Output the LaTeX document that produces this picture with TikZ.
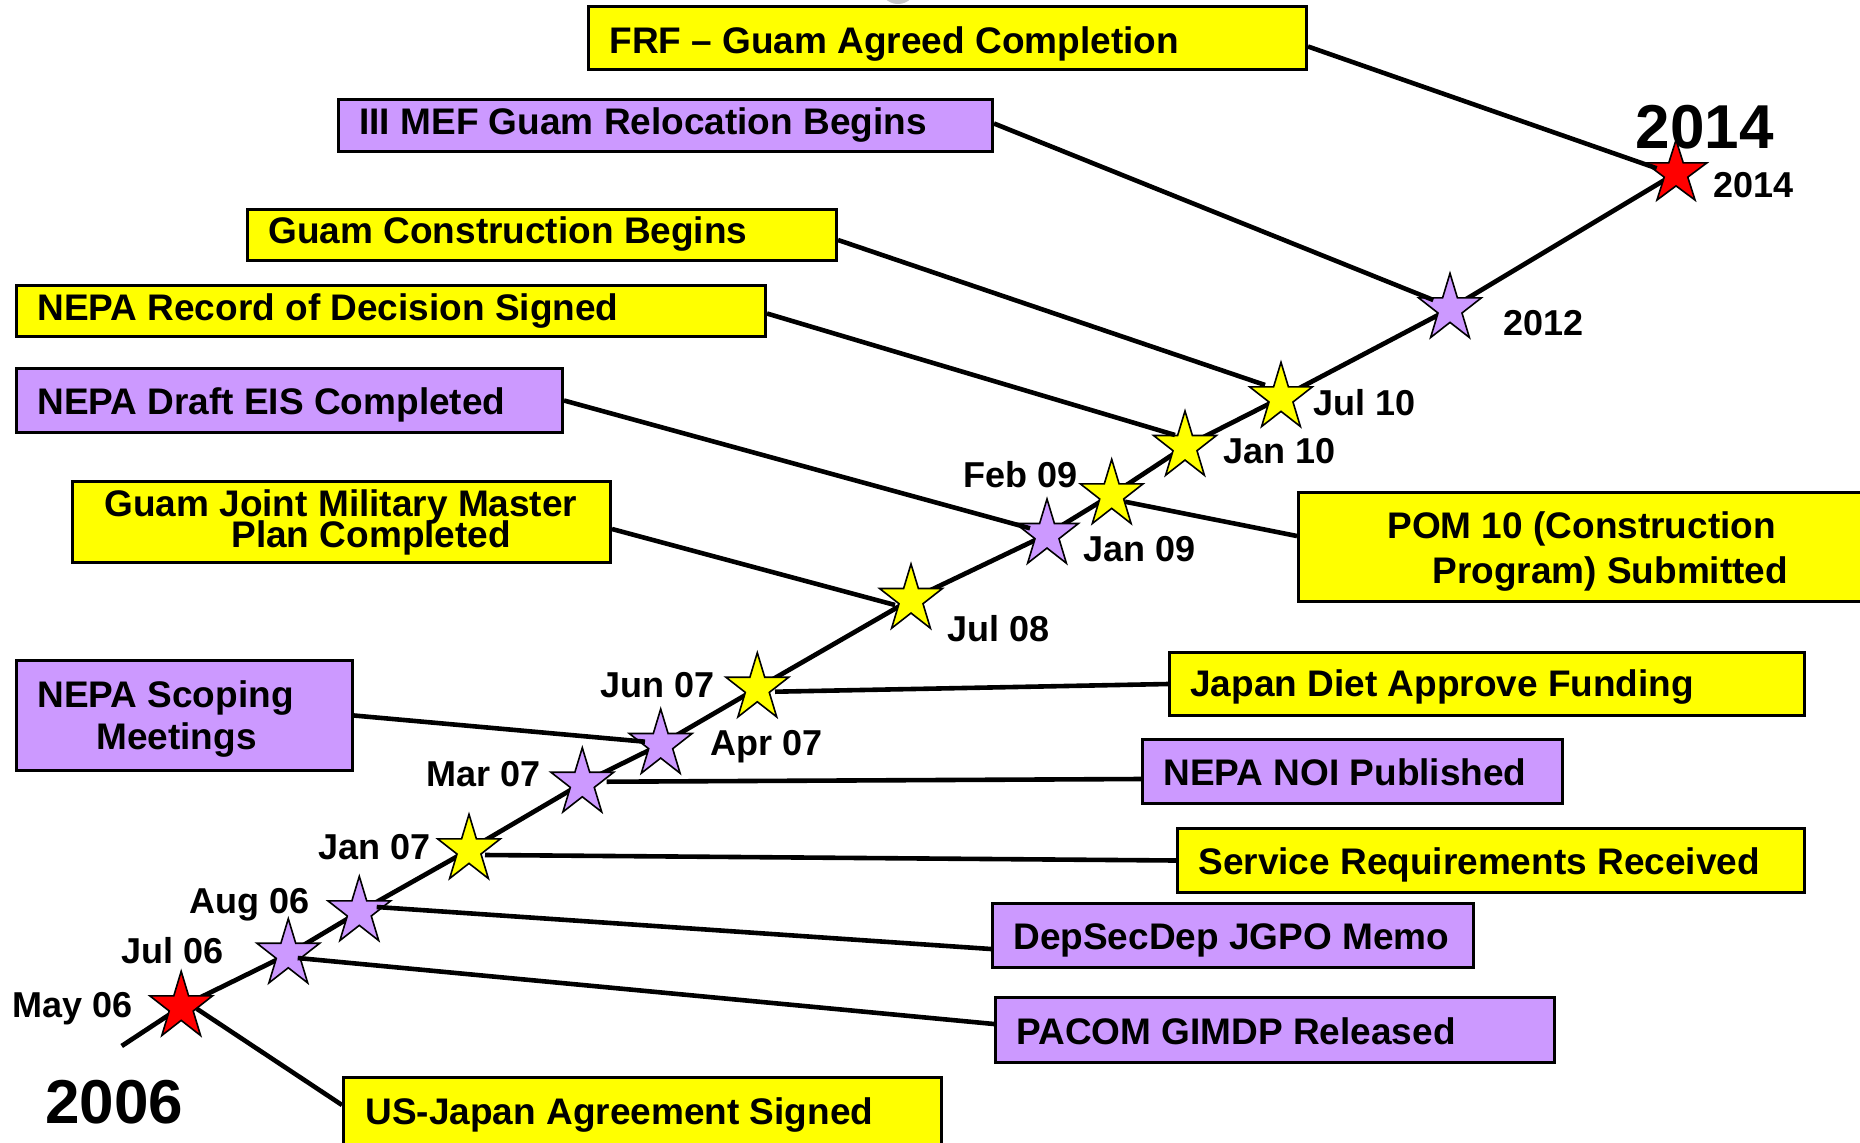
\documentclass[tikz,border=0pt]{standalone}
\usepackage{fontspec}
\setmainfont{Liberation Sans}
\definecolor{evyellow}{HTML}{FFFF00}
\definecolor{evpurple}{HTML}{CC99FF}
\definecolor{evred}{HTML}{FF0000}
\tikzset{
  evbox/.style={draw=black, line width=1.3pt, inner sep=0pt, rectangle},
  boxtxt/.style={inner sep=0pt, anchor=base west, font=\bfseries\fontsize{18.5}{22}\selectfont},
  datelbl/.style={inner sep=0pt, anchor=base west, font=\bfseries\fontsize{18}{22}\selectfont},
  yearlbl/.style={inner sep=0pt, anchor=base west, font=\bfseries\fontsize{31}{36}\selectfont},
  timeline/.style={line width=2.35pt, line join=round},
  conn/.style={line width=2.3pt},
  starline/.style={draw=black, line width=0.8pt, line join=miter},
}
% name x1 y1 x2 y2 colour
\newcommand\evbox[6]{%
  \node[evbox, fill=#6, minimum width={(#4-#2)*0.5pt-1.3pt},
        minimum height={(#5-#3)*0.5pt-1.3pt}] (#1) at ({(#2+#4)/2},{(#3+#5)/2}) {};}
% name rx ry colour
\newcommand\evstar[4]{%
  \pgfmathsetmacro\irx{0.382*#2}\pgfmathsetmacro\iry{0.382*#3}%
  \draw[starline, fill=#4, shift={(#1)}]
    (-90:#2 and #3) -- (-54:\irx\space and \iry) -- (-18:#2 and #3) -- (18:\irx\space and \iry)
    -- (54:#2 and #3) -- (90:\irx\space and \iry) -- (126:#2 and #3) -- (162:\irx\space and \iry)
    -- (198:#2 and #3) -- (234:\irx\space and \iry) -- cycle;}
\begin{document}
\begin{tikzpicture}[x=0.5pt,y=-0.5pt]
\useasboundingbox (0,0) rectangle (1860,1142);
\fill[white] (0,0) rectangle (1860,1142);
\fill[gray!45] (898,-14) circle (18);

% boxes
\evbox{frf}{587}{5}{1308}{71}{evyellow}
\evbox{mef}{337}{98}{994}{153}{evpurple}
\evbox{gcb}{246}{208}{838}{262}{evyellow}
\evbox{rod}{15}{284}{767}{338}{evyellow}
\evbox{eis}{15}{367}{564}{434}{evpurple}
\evbox{jmmp}{71}{480}{612}{564}{evyellow}
\evbox{pom}{1297}{491}{1890}{603}{evyellow}
\evbox{diet}{1168}{651}{1806}{717}{evyellow}
\evbox{noi}{1141}{738}{1564}{805}{evpurple}
\evbox{srr}{1176}{827}{1806}{894}{evyellow}
\evbox{dsd}{991}{902}{1475}{969}{evpurple}
\evbox{pacom}{994}{996}{1556}{1064}{evpurple}
\evbox{scop}{15}{659}{354}{772}{evpurple}
\evbox{usj}{342}{1076}{943}{1160}{evyellow}

% box texts
\node[boxtxt] (frf-t) at (609,53) {FRF – Guam Agreed Completion};
\node[boxtxt] (mef-t) at (359,134.5) {III MEF Guam Relocation Begins};
\node[boxtxt] (gcb-t) at (268,243.5) {Guam Construction Begins};
\node[boxtxt] (rod-t) at (37,320) {NEPA Record of Decision Signed};
\node[boxtxt] (eis-t) at (37,414.5) {NEPA Draft EIS Completed};
\node[boxtxt] (jmmp-t1) at (104,516) {Guam Joint Military Master};
\node[boxtxt] (jmmp-t2) at (231,547) {Plan Completed};
\node[boxtxt] (pom-t1) at (1387,538) {POM 10 (Construction};
\node[boxtxt] (pom-t2) at (1432,583) {Program) Submitted};
\node[boxtxt] (diet-t) at (1190,696.5) {Japan Diet Approve Funding};
\node[boxtxt] (noi-t) at (1163,785.5) {NEPA NOI Published};
\node[boxtxt] (srr-t) at (1198,874.5) {Service Requirements Received};
\node[boxtxt] (dsd-t) at (1013,949) {DepSecDep JGPO Memo};
\node[boxtxt] (pacom-t) at (1016,1044) {PACOM GIMDP Released};
\node[boxtxt] (scop-t1) at (37,707) {NEPA Scoping};
\node[boxtxt] (scop-t2) at (96,749) {Meetings};
\node[boxtxt] (usj-t) at (365,1124) {US-Japan Agreement Signed};

% big years
\node[yearlbl] (y2006) at (45,1123.5) {2006};
\node[yearlbl] (y2014) at (1635.5,148.3) {2014};

% star centres
\coordinate (t0) at (121.7,1046);
\coordinate (s1) at (181.2,1006.8);
\coordinate (s2) at (288.3,954.2);
\coordinate (s3) at (359.3,911.8);
\coordinate (s4) at (469,849.8);
\coordinate (s5) at (582.3,783.2);
\coordinate (s6) at (660.7,744.5);
\coordinate (s7) at (757.3,688.2);
\coordinate (s8) at (911,599.5);
\coordinate (s9) at (1047,534.5);
\coordinate (s10) at (1111.7,494.8);
\coordinate (s11) at (1185,446.5);
\coordinate (s12) at (1281,397.8);
\coordinate (s13) at (1450,308.8);
\coordinate (s14) at (1676,173.2);

% timeline
\draw[timeline] (t0) -- (s1) -- (s2) -- (s3) -- (s4) -- (s5) -- (s6) -- (s7)
  -- (s8) -- (s9) -- (s10) -- (s11) -- (s12) -- (s13) -- (s14);

% stars
\evstar{s1}{33}{35.5}{evred}
\evstar{s2}{33}{35.5}{evpurple}
\evstar{s3}{33}{35.5}{evpurple}
\evstar{s4}{33}{35.5}{evyellow}
\evstar{s5}{33}{35.5}{evpurple}
\evstar{s6}{33}{35.5}{evpurple}
\evstar{s7}{33}{35.5}{evyellow}
\evstar{s8}{33}{35.5}{evyellow}
\evstar{s9}{33}{35.5}{evpurple}
\evstar{s10}{33}{35.5}{evyellow}
\evstar{s11}{33}{35.5}{evyellow}
\evstar{s12}{33}{35.5}{evyellow}
\evstar{s13}{33}{35.5}{evpurple}
\evstar{s14}{32.4}{33.2}{evred}

% connector ends at the stars
\coordinate (c1) at (196.7,1008.7);
\coordinate (c2) at (297.7,958);
\coordinate (c3) at (376.7,907);
\coordinate (c4) at (485,855);
\coordinate (c5) at (606.7,781.7);
\coordinate (c6) at (645,741.7);
\coordinate (c7) at (775,691.7);
\coordinate (c8) at (895,605);
\coordinate (c9) at (1030,528.3);
\coordinate (c10) at (1125,501.7);
\coordinate (c11) at (1175,435);
\coordinate (c12) at (1265,385);
\coordinate (c13) at (1433.3,300);
\coordinate (c14) at (1656.7,168.3);

% connectors
\draw[conn] (c1) -- ([yshift=6.5pt]usj.west);
\draw[conn] (c2) -- ([yshift=3pt]pacom.west);
\draw[conn] (c3) -- ([yshift=-6.75pt]dsd.west);
\draw[conn] (c4) -- (srr.west);
\draw[conn] (c5) -- ([yshift=-3.75pt]noi.west);
\draw[conn] (scop.east) -- (c6);
\draw[conn] (c7) -- (diet.west);
\draw[conn] ([yshift=-3.5pt]jmmp.east) -- (c8);
\draw[conn] (eis.east) -- (c9);
\draw[conn] (c10) -- ([yshift=5.5pt]pom.west);
\draw[conn] ([yshift=-1.25pt]rod.east) -- (c11);
\draw[conn] ([yshift=-2.5pt]gcb.east) -- (c12);
\draw[conn] ([yshift=1pt]mef.east) -- (c13);
\draw[conn] ([yshift=-4.25pt]frf.east) -- (c14);

% date labels
\node[datelbl] (l1) at (11.7,1017) {May 06};
\node[datelbl] (l2) at (121,963.7) {Jul 06};
\node[datelbl] (l3) at (189,913.7) {Aug 06};
\node[datelbl] (l4) at (318.3,859.3) {Jan 07};
\node[datelbl] (l5) at (426,786.7) {Mar 07};
\node[datelbl] (l6) at (710,755) {Apr 07};
\node[datelbl] (l7) at (600,697.3) {Jun 07};
\node[datelbl] (l8) at (946.7,641.7) {Jul 08};
\node[datelbl] (l9) at (1083.3,561.7) {Jan 09};
\node[datelbl] (l10) at (963.3,487.3) {Feb 09};
\node[datelbl] (l11) at (1223.3,463.3) {Jan 10};
\node[datelbl] (l12) at (1312.7,415) {Jul 10};
\node[datelbl] (l13) at (1502.7,335) {2012};
\node[datelbl] (l14) at (1712.7,197.3) {2014};
\end{tikzpicture}
\end{document}
